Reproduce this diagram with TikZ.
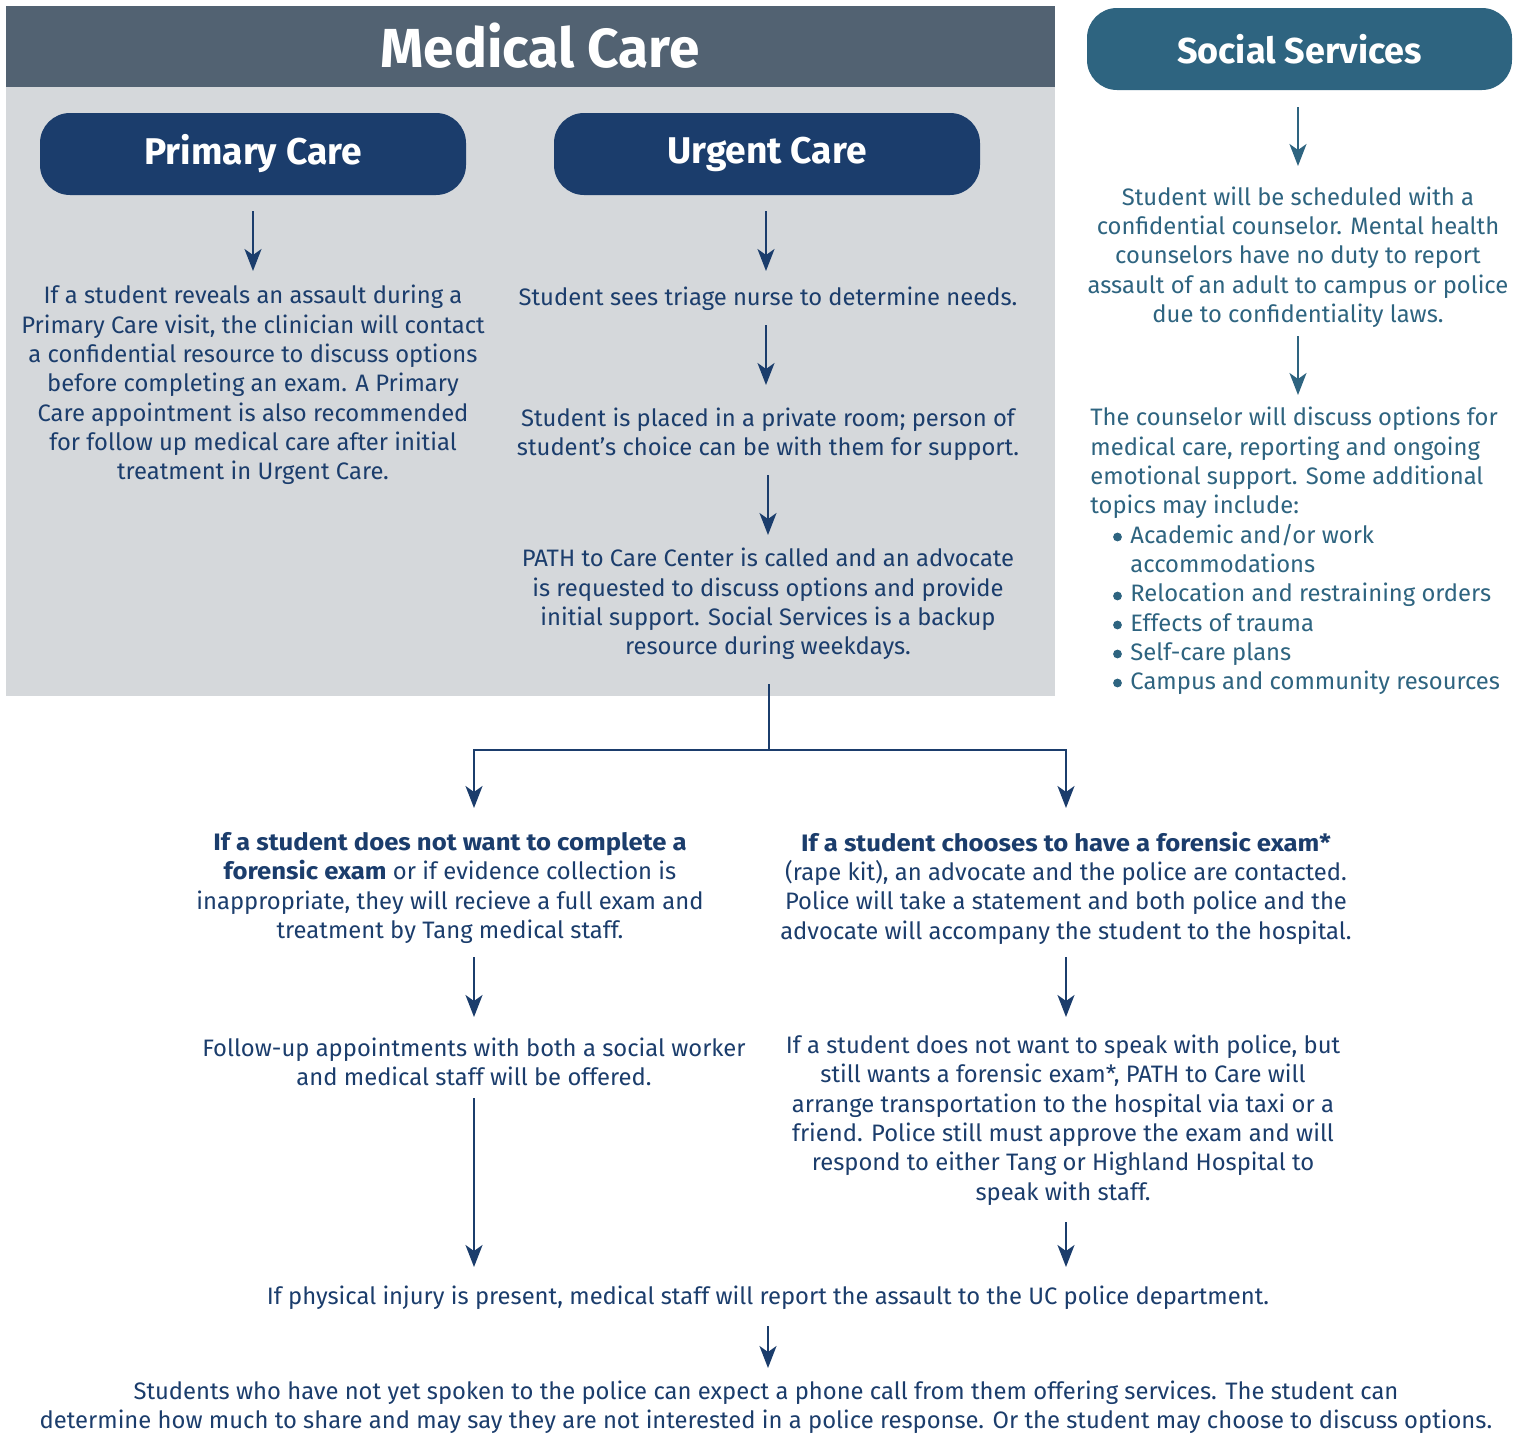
\documentclass[tikz,border=0pt]{standalone}
\usepackage{fontspec}
\setmainfont{Fira Sans}
\usetikzlibrary{arrows.meta}
\definecolor{navy}{HTML}{1B3D6C}
\definecolor{slate}{HTML}{526272}
\definecolor{panel}{HTML}{D5D8DB}
\definecolor{teal}{HTML}{2E6480}
\newcommand{\wbf}[1]{\scalebox{1.08}[1]{\textbf{#1}}}
\newcommand{\bul}{\hspace*{20pt}}
\begin{document}
\begin{tikzpicture}[x=0.5pt,y=-0.5pt,
  txt/.style={text=navy, font=\fontsize{11.9}{14.65}\selectfont, align=center, inner sep=0pt},
  stxt/.style={txt, text=teal},
  arr/.style={draw=navy, line width=1pt, -{Stealth[length=11pt,width=8.5pt,inset=3pt]}},
  sarr/.style={arr, draw=teal, -{Stealth[length=11pt,width=8.5pt,inset=3pt,fill=teal]}},
  plain/.style={draw=navy, line width=1pt},
  dot/.style={fill=teal},
  hbox/.style={rounded corners=15pt, fill=navy, text=white, inner sep=0pt,
    font=\bfseries\fontsize{18.6}{22}\selectfont, minimum width=213pt, minimum height=41pt}
]
\useasboundingbox (0,0) rectangle (1523,1435);
\fill[white] (0,0) rectangle (1523,1435);
% panels
\fill[panel] (6,87) rectangle (1055,696);
\fill[slate] (6,6) rectangle (1055,87);
\node[text=white, font=\bfseries\fontsize{27.5}{32}\selectfont, inner sep=0pt] (mc) at (540,46) {Medical Care};
% header boxes
\node[hbox] (pc) at (253,154) {Primary Care};
\node[hbox] (uc) at (767,154) {Urgent Care};
\node[hbox, fill=teal, minimum width=212.5pt, font=\bfseries\fontsize{18}{22}\selectfont] (ss) at (1299.5,49) {Social Services};
% primary care column
\node[txt] (p1) at (253,385) {If a student reveals an assault during a\\
Primary Care visit, the clinician will contact\\
a confidential resource to discuss options\\
before completing an exam. A Primary\\
Care appointment is also recommended\\
for follow up medical care after initial\\
treatment in Urgent Care.};
\draw[arr] (pc.south |- 0,211) -- (pc.south |- 0,271);
% urgent care column
\node[txt] (u1) at (768,299) {Student sees triage nurse to determine needs.};
\node[txt] (u2) at (768,434.5) {Student is placed in a private room; person of\\
student’s choice can be with them for support.};
\node[txt] (u3) at (768,604) {PATH to Care Center is called and an advocate\\
is requested to discuss options and provide\\
initial support. Social Services is a backup\\
resource during weekdays.};
\draw[arr] (766,211) -- (766,271);
\draw[arr] (766,325) -- (766,385);
\draw[arr] (768,475) -- (768,535);
% social services column
\node[stxt] (s1) at (1298,257) {Student will be scheduled with a\\
confidential counselor. Mental health\\
counselors have no duty to report\\
assault of an adult to campus or police\\
due to confidentiality laws.};
\node[stxt, align=left, anchor=west] (s2) at (1090,551) {The counselor will discuss options for\\
medical care, reporting and ongoing\\
emotional support. Some additional\\
topics may include:\\
\bul Academic and/or work\\
\bul accommodations\\
\bul Relocation and restraining orders\\
\bul Effects of trauma\\
\bul Self-care plans\\
\bul Campus and community resources};
\foreach \yy in {537,596,625,654,683}
  \fill[dot] (1117.5,\yy) circle (2.2pt);
\draw[sarr] (1298,107) -- (1298,166);
\draw[sarr] (1298,336) -- (1298,395);
% split connector
\coordinate (split) at (769,750);
\draw[plain] (769,684) -- (split);
\draw[arr] (split) -| (474,808);
\draw[arr] (split) -| (1066,808);
% left branch
\node[txt] (l1) at (450,888) {\wbf{If a student does not want to complete a}\\
\wbf{forensic exam} or if evidence collection is\\
inappropriate, they will recieve a full exam and\\
treatment by Tang medical staff.};
\node[txt] (l2) at (474,1062) {Follow-up appointments with both a social worker\\
and medical staff will be offered.};
\draw[arr] (474,957) -- (474,1017);
\draw[arr] (474,1098) -- (474,1267);
% right branch
\node[txt] (r1) at (1066,888) {\wbf{If a student chooses to have a forensic exam*}\\
(rape kit), an advocate and the police are contacted.\\
Police will take a statement and both police and the\\
advocate will accompany the student to the hospital.};
\node[txt] (r2) at (1063,1120) {If a student does not want to speak with police, but\\
still wants a forensic exam*, PATH to Care will\\
arrange transportation to the hospital via taxi or a\\
friend. Police still must approve the exam and will\\
respond to either Tang or Highland Hospital to\\
speak with staff.};
\draw[arr] (1066,957) -- (1066,1017);
\draw[arr] (1066,1222) -- (1066,1267);
% bottom
\node[txt] (b1) at (768,1298) {If physical injury is present, medical staff will report the assault to the UC police department.};
\node[txt] (b2) at (766,1407.5) {Students who have not yet spoken to the police can expect a phone call from them offering services. The student can\\
determine how much to share and may say they are not interested in a police response. Or the student may choose to discuss options.};
\draw[arr] (768,1326) -- (768,1368);
\end{tikzpicture}
\end{document}
